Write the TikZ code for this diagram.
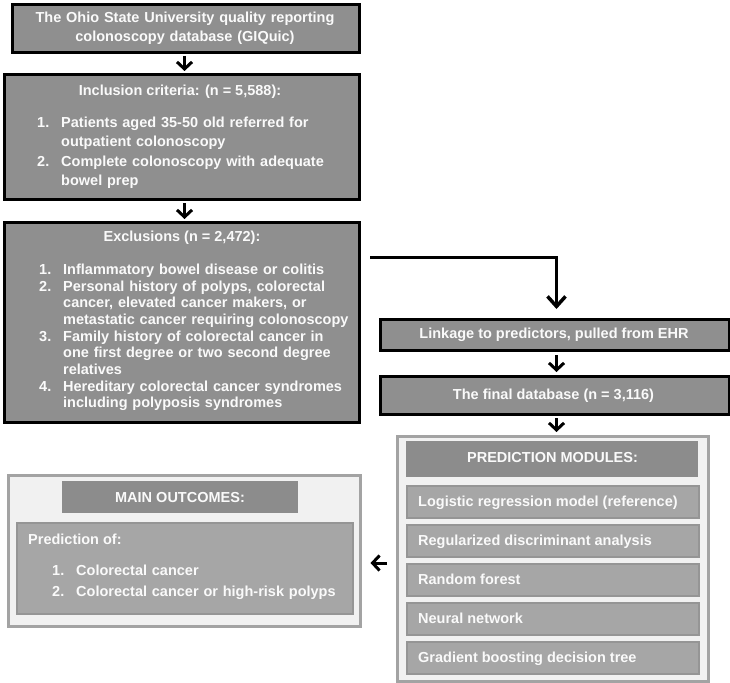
\documentclass[tikz,border=0pt]{standalone}
\usepackage{fontspec}
\setmainfont{Liberation Sans}
\usetikzlibrary{arrows.meta}
\definecolor{boxgray}{HTML}{8F8F8F}
\definecolor{headgray}{HTML}{8C8C8C}
\definecolor{itemgray}{HTML}{A6A6A6}
\definecolor{itemedge}{HTML}{959595}
\definecolor{outerfill}{HTML}{F1F1F1}
\definecolor{outeredge}{HTML}{A3A3A3}
\definecolor{txtcol}{HTML}{FAFAFA}
\newcommand\numline[2]{\hangindent=24pt\hangafter=1\noindent\makebox[24pt][l]{#1}#2\par}
\begin{document}
\begin{tikzpicture}[x=1pt,y=-1pt,
  mainbox/.style={draw=black, line width=3pt, fill=boxgray, inner sep=0pt, anchor=north west},
  outerbox/.style={draw=outeredge, line width=2.5pt, fill=outerfill, inner sep=0pt, anchor=north west},
  headbox/.style={draw=none, fill=headgray, inner sep=0pt, anchor=north west},
  itembox/.style={draw=itemedge, line width=1.5pt, fill=itemgray, inner sep=0pt, anchor=north west},
  txt/.style={text=txtcol, inner sep=0pt, font=\bfseries\fontsize{14.5}{19.5}\selectfont},
  tighttxt/.style={text=txtcol, inner sep=0pt, font=\bfseries\fontsize{14.5}{16.7}\selectfont},
  arr/.style={line width=3pt, -{Straight Barb[length=7pt,width=15pt]}},
  bigarr/.style={line width=3.5pt, -{Straight Barb[length=10pt,width=18pt]}}
]
\useasboundingbox (0,0) rectangle (730,682);

% left column boxes
\node[mainbox, minimum width=347pt, minimum height=48pt] (b1) at (11,3) {};
\node[mainbox, minimum width=355pt, minimum height=125pt] (b2) at (3,73) {};
\node[mainbox, minimum width=355pt, minimum height=200pt] (b3) at (3,221) {};

\node[txt, text width=340pt, align=center, anchor=base] (t1) at (185,22.5)
  {The Ohio State University quality reporting\\colonoscopy database (GIQuic)};

\node[txt, anchor=base] (t2h) at (180,95.7) {Inclusion criteria: (n = 5,588):};
\node[txt, text width=320pt, align=left, anchor=base west] (t2l) at (37,127.3)
  {\numline{1.}{Patients aged 35-50 old referred for\newline outpatient colonoscopy}%
   \numline{2.}{Complete colonoscopy with adequate\newline bowel prep}};

\node[txt, anchor=base] (t3h) at (182,241.7) {Exclusions (n = 2,472):};
\node[tighttxt, text width=320pt, align=left, anchor=base west] (t3l) at (39,274.3)
  {\numline{1.}{Inflammatory bowel disease or colitis}%
   \numline{2.}{Personal history of polyps, colorectal\newline cancer, elevated cancer makers, or\newline metastatic cancer requiring colonoscopy}%
   \numline{3.}{Family history of colorectal cancer in\newline one first degree or two second degree\newline relatives}%
   \numline{4.}{Hereditary colorectal cancer syndromes\newline including polyposis syndromes}};

% right column
\node[mainbox, minimum width=349pt, minimum height=31pt] (link) at (379,318) {};
\node[txt, anchor=base] (tlink) at (554,338.5) {Linkage to predictors, pulled from EHR};
\node[mainbox, minimum width=349pt, minimum height=38pt] (final) at (379,375) {};
\node[txt, anchor=base] (tfinal) at (553.5,399) {The final database (n = 3,116)};

\node[outerbox, minimum width=311pt, minimum height=245pt] (pred) at (396,435) {};
\node[headbox, minimum width=292pt, minimum height=36pt] (predh) at (406,441) {};
\node[txt, anchor=base] (tpredh) at (552.5,462) {PREDICTION MODULES:};
\node[itembox, minimum width=292pt, minimum height=32pt] (p1) at (406,485) {};
\node[itembox, minimum width=292pt, minimum height=32pt] (p2) at (406,524) {};
\node[itembox, minimum width=292pt, minimum height=32pt] (p3) at (406,563) {};
\node[itembox, minimum width=292pt, minimum height=32pt] (p4) at (406,602) {};
\node[itembox, minimum width=292pt, minimum height=32pt] (p5) at (406,641) {};
\node[txt, anchor=base west] (tp1) at (418,506) {Logistic regression model (reference)};
\node[txt, anchor=base west] (tp2) at (418,545) {Regularized discriminant analysis};
\node[txt, anchor=base west] (tp3) at (418,584) {Random forest};
\node[txt, anchor=base west] (tp4) at (418,623) {Neural network};
\node[txt, anchor=base west] (tp5) at (418,662) {Gradient boosting decision tree};

% main outcomes
\node[outerbox, minimum width=352pt, minimum height=151pt] (out) at (7,474) {};
\node[headbox, minimum width=236pt, minimum height=32pt] (outh) at (62,481) {};
\node[txt, anchor=base] (touth) at (180,502) {MAIN OUTCOMES:};
\node[itembox, minimum width=336pt, minimum height=91pt] (outi) at (16,522) {};
\node[txt, anchor=base west] (tpo) at (28,544) {Prediction of:};
\node[txt, text width=310pt, align=left, anchor=base west, font=\bfseries\fontsize{14.5}{21}\selectfont] (tol) at (52,575)
  {\numline{1.}{Colorectal cancer}%
   \numline{2.}{Colorectal cancer or high-risk polyps}};

% connectors
\draw[arr, shorten <=2pt, shorten >=2pt] ([xshift=-1.5pt]b1.south) -- ([xshift=-1.5pt]b1.south |- b2.north);
\draw[arr, shorten <=2pt, shorten >=2pt] ([xshift=2.5pt]b2.south) -- ([xshift=2.5pt]b2.south |- b3.north);
\coordinate (estart) at (370,257.7);
\draw[bigarr, shorten >=9pt] (estart) -| ([xshift=1.5pt]link.north);
\draw[arr, shorten <=3pt, shorten >=3pt] ([xshift=1.5pt]link.south) -- ([xshift=1.5pt]link.south |- final.north);
\draw[arr, shorten <=2pt, shorten >=3pt] ([xshift=1.5pt]final.south) -- ([xshift=1.5pt]final.south |- pred.north);
\coordinate (ay) at (0,563);
\draw[arr, shorten <=9pt, shorten >=9pt] (pred.west |- ay) -- (out.east |- ay);
\end{tikzpicture}
\end{document}
